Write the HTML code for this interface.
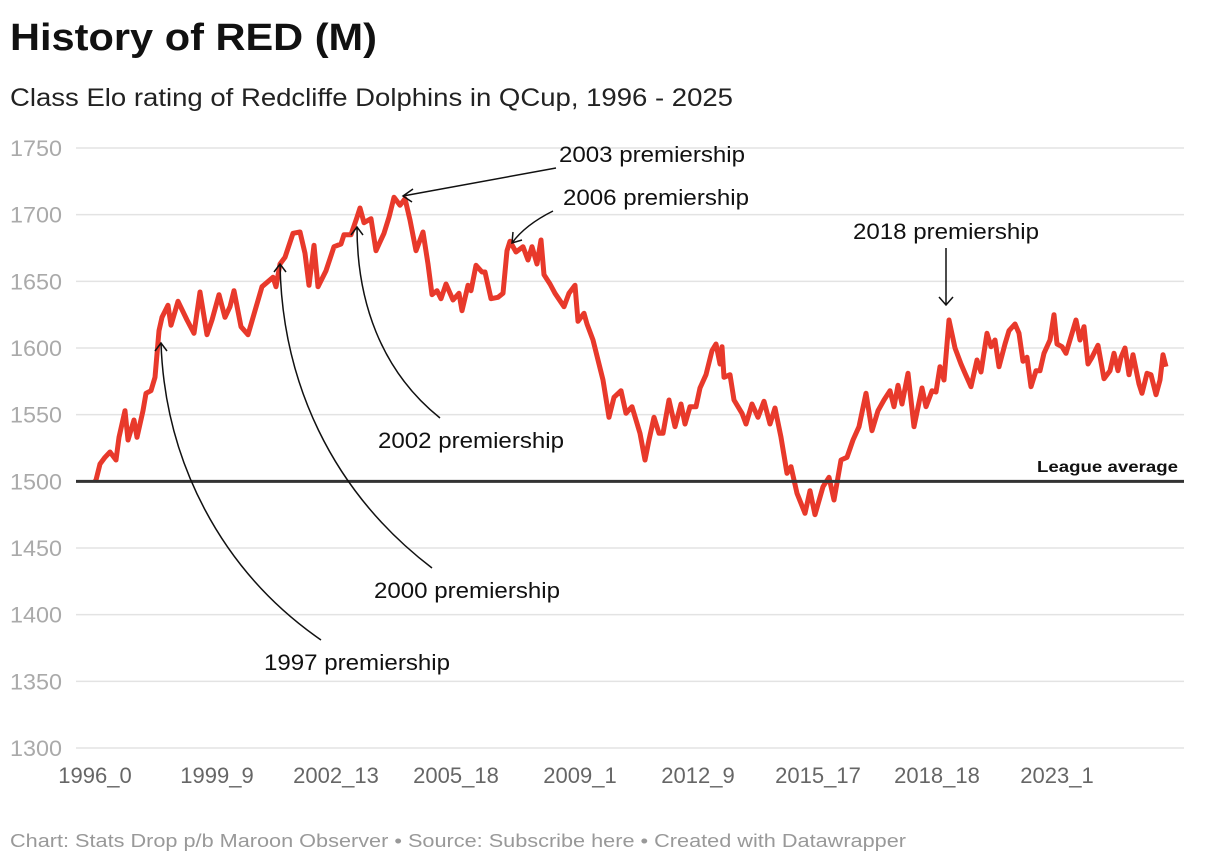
<!DOCTYPE html>
<html><head><meta charset="utf-8"><style>
body{margin:0;background:#fff;font-family:"Liberation Sans",sans-serif;}
svg{display:block}
</style></head><body>
<svg id="chart" width="1220" height="864">
<text x="10" y="50" font-size="38" font-weight="bold" fill="#111" textLength="367" lengthAdjust="spacingAndGlyphs">History of RED (M)</text>
<text x="10" y="106" font-size="25" fill="#222" textLength="723" lengthAdjust="spacingAndGlyphs">Class Elo rating of Redcliffe Dolphins in QCup, 1996 - 2025</text>
<g id="grid"></g><g id="xaxis"></g>
<path id="line" fill="none" stroke="#e8392b" stroke-width="5" stroke-linejoin="round"></path>
<line id="avg" x1="76" x2="1184" stroke="#333" stroke-width="3"></line>
<text x="1178" y="472" font-size="16" font-weight="bold" fill="#111" text-anchor="end" textLength="141" lengthAdjust="spacingAndGlyphs">League average</text>
<g font-size="22" fill="#111" text-anchor="middle" lengthAdjust="spacingAndGlyphs">
<text x="652" y="162" textLength="186" lengthAdjust="spacingAndGlyphs">2003 premiership</text>
<text x="656" y="205" textLength="186" lengthAdjust="spacingAndGlyphs">2006 premiership</text>
<text x="946" y="239" textLength="186" lengthAdjust="spacingAndGlyphs">2018 premiership</text>
<text x="471" y="448" textLength="186" lengthAdjust="spacingAndGlyphs">2002 premiership</text>
<text x="467" y="598" textLength="186" lengthAdjust="spacingAndGlyphs">2000 premiership</text>
<text x="357" y="670" textLength="186" lengthAdjust="spacingAndGlyphs">1997 premiership</text>
</g>
<g fill="none" stroke="#111" stroke-width="1.5">
<path d="M556,168 L403,196 M413,189 L403,196 L412,202"/>
<path d="M553,211 Q525,225 512,243 M513,232 L512,243 L522,240"/>
<path d="M946,248 L946,305 M939,297 L946,305 L953,297"/>
<path d="M440,418 C380,370 357,300 357,227 M351,235 L357,227 L363,235"/>
<path d="M432,568 C330,490 282,380 280,264 M274,272 L280,264 L286,272"/>
<path d="M321,640 C220,570 165,460 161,343 M155,351 L161,343 L167,351"/>
</g>
<text x="10" y="847" font-size="18" fill="#999" textLength="896" lengthAdjust="spacingAndGlyphs">Chart: Stats Drop p/b Maroon Observer • Source: Subscribe here • Created with Datawrapper</text>
</svg>
<script>
const yTicks=[1300,1350,1400,1450,1500,1550,1600,1650,1700,1750];
const xTickIdx=[0,122,241,361,485,603,723,842,962];
const xTickLabels=["1996_0","1999_9","2002_13","2005_18","2009_1","2012_9","2015_17","2018_18","2023_1"];
const gameIdx=[0,1,5,10,15,21,24,30,33,39,42,48,51,56,60,64,67,73,76,83,92,99,105,112,117,124,130,135,139,146,153,160,167,178,181,185,190,198,205,210,214,219,223,231,239,246,249,256,262,265,269,276,281,289,294,299,305,310,315,321,328,333,337,342,346,351,358,364,367,373,376,381,387,390,396,403,408,412,415,421,428,433,437,442,446,449,455,460,469,474,480,483,489,492,498,503,508,514,519,526,531,537,545,550,554,559,564,568,574,580,586,590,595,601,605,611,617,621,625,627,629,635,639,647,651,657,663,669,675,680,686,692,696,702,710,715,720,728,734,739,746,752,758,764,771,777,783,789,795,799,803,807,813,819,827,831,837,841,845,849,854,860,866,870,876,882,886,892,896,900,904,910,914,920,924,928,932,936,941,945,949,955,959,962,967,971,977,981,985,989,993,997,1003,1009,1015,1019,1023,1026,1030,1034,1038,1044,1047,1052,1056,1061,1065,1068,1071];
const elo=[1500,1501,1513,1518,1522,1516,1533,1553,1531,1546,1533,1553,1566,1568,1578,1613,1623,1632,1617,1635,1621,1611,1642,1610,1621,1640,1623,1631,1643,1616,1610,1628,1646,1653,1646,1663,1668,1686,1687,1671,1647,1677,1646,1658,1676,1678,1685,1685,1698,1705,1694,1697,1673,1686,1698,1713,1707,1712,1696,1673,1687,1663,1640,1643,1637,1648,1636,1641,1628,1647,1643,1662,1657,1657,1637,1638,1641,1673,1680,1672,1676,1666,1676,1663,1681,1655,1648,1641,1631,1641,1647,1620,1626,1618,1606,1591,1576,1548,1563,1568,1551,1556,1536,1516,1531,1548,1536,1536,1561,1541,1558,1543,1556,1556,1570,1580,1598,1603,1588,1601,1578,1580,1561,1551,1543,1558,1548,1560,1543,1555,1533,1506,1511,1491,1476,1493,1475,1496,1503,1486,1516,1518,1531,1541,1566,1538,1553,1561,1568,1556,1572,1558,1581,1541,1570,1556,1568,1567,1586,1576,1621,1600,1588,1581,1571,1591,1582,1611,1601,1606,1586,1603,1613,1618,1611,1590,1593,1571,1583,1583,1596,1606,1625,1603,1601,1596,1611,1621,1606,1616,1588,1593,1602,1577,1583,1596,1583,1593,1600,1580,1595,1573,1566,1581,1580,1565,1576,1595,1586];
const X0=95,X1=1165,IMAX=1070,Y0=748,Y1=148,VMIN=1300,VMAX=1750;
const xs=i=>X0+(i/IMAX)*(X1-X0);
const ys=v=>Y0-(v-VMIN)/(VMAX-VMIN)*(Y0-Y1);
const NS="http://www.w3.org/2000/svg";
const grid=document.getElementById('grid');
yTicks.forEach(t=>{
 if(t!==1500){const l=document.createElementNS(NS,'line');
 l.setAttribute('x1',76);l.setAttribute('x2',1184);l.setAttribute('y1',ys(t));l.setAttribute('y2',ys(t));
 l.setAttribute('stroke','#e3e3e3');l.setAttribute('stroke-width','1.5');
 
 
 grid.appendChild(l);}
 const tx=document.createElementNS(NS,'text');
 tx.setAttribute('x',10);tx.setAttribute('y',ys(t)+8);tx.setAttribute('font-size','22');tx.setAttribute('fill','#aaa');
 tx.setAttribute('textLength','52');tx.setAttribute('lengthAdjust','spacingAndGlyphs');
 tx.textContent=t;
 
 
 grid.appendChild(tx);
});
document.getElementById('avg').setAttribute('y1',ys(1500));
document.getElementById('avg').setAttribute('y2',ys(1500));
const xa=document.getElementById('xaxis');
xTickIdx.forEach((t,k)=>{
 const tx=document.createElementNS(NS,'text');
 tx.setAttribute('x',xs(t));tx.setAttribute('y',783);tx.setAttribute('font-size','22');tx.setAttribute('fill','#666');tx.setAttribute('text-anchor','middle');
 tx.textContent=xTickLabels[k];
 
 
 xa.appendChild(tx);
});
document.getElementById('line').setAttribute('d',elo.map((v,i)=>(i?'L':'M')+xs(gameIdx[i]).toFixed(1)+','+ys(v).toFixed(1)).join(' '));
</script>
</body></html>
